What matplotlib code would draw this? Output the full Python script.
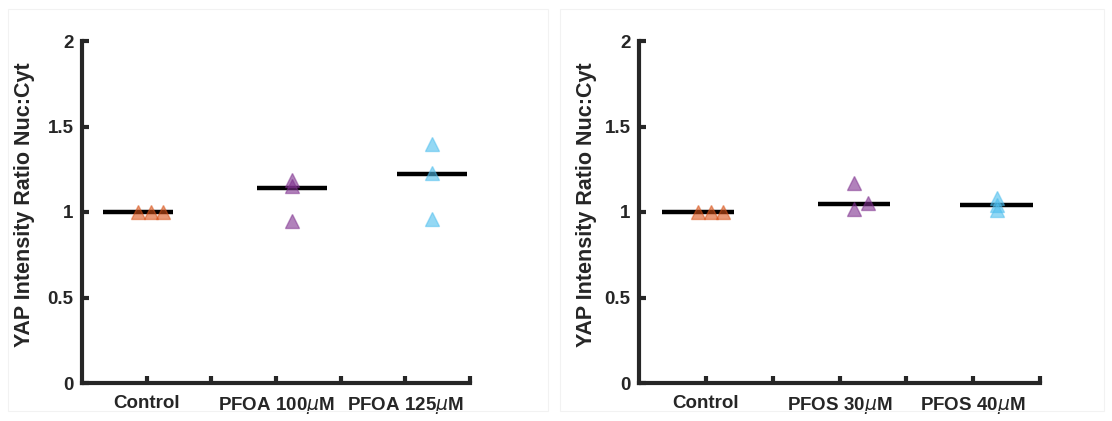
import matplotlib
matplotlib.use("Agg")
from matplotlib import pyplot as plt
from matplotlib.patches import Rectangle

plt.rcParams['font.family'] = ['Liberation Sans', 'DejaVu Sans']
plt.rcParams['mathtext.fontset'] = 'dejavusans'

# data
# left panel: PFOA
pfoa_labels = ["Control", "PFOA 100$\\mu$M", "PFOA 125$\\mu$M"]
pfoa_ctrl_x = [0.87, 1.07, 1.26]
pfoa_ctrl_y = [1.0, 1.0, 1.0]
pfoa100_x = [3.25, 3.25, 3.25]
pfoa100_y = [1.19, 1.15, 0.95]
pfoa125_x = [5.41, 5.41, 5.41]
pfoa125_y = [1.40, 1.23, 0.96]
pfoa_mid_x = [0.87, 3.25, 5.41]
pfoa_mid_y = [1.0, 1.14, 1.22]

# right panel: PFOS
pfos_labels = ["Control", "PFOS 30$\\mu$M", "PFOS 40$\\mu$M"]
pfos_ctrl_x = [0.88, 1.07, 1.26]
pfos_ctrl_y = [1.0, 1.0, 1.0]
pfos30_x = [3.22, 3.22, 3.43]
pfos30_y = [1.17, 1.02, 1.05]
pfos40_x = [5.35, 5.35, 5.35]
pfos40_y = [1.08, 1.04, 1.01]
pfos_mid_x = [0.88, 3.22, 5.35]
pfos_mid_y = [1.0, 1.045, 1.04]

orange = (0.850, 0.325, 0.098)
purple = (0.494, 0.184, 0.556)
cyan = (0.301, 0.745, 0.933)
axcol = "#262626"

fig = plt.figure(figsize=(11.12, 4.21), dpi=100)

# faint panel frames
fig.patches.append(Rectangle((8/1112, 10/421), 540/1112, 402/421, transform=fig.transFigure,
                             fill=False, edgecolor="#f2f2f2", lw=0.8))
fig.patches.append(Rectangle((560/1112, 10/421), 544/1112, 402/421, transform=fig.transFigure,
                             fill=False, edgecolor="#f2f2f2", lw=0.8))


def panel(rect, labels, groups, mid_x, mid_y, ylab_x):
    ax = fig.add_axes(rect)
    for gx, gy, c in groups:
        ax.plot(gx, gy, linestyle="none", marker="^", markersize=9.5,
                markerfacecolor=c + (0.6,), markeredgecolor=c + (0.5,),
                markeredgewidth=1.0, zorder=3)
    for mx, my in zip(mid_x, mid_y):
        ax.plot([mx - 0.54, mx + 0.54], [my, my], color="black", lw=3.2, zorder=2,
                solid_capstyle="butt")
    ax.set_xlim(0, 6)
    ax.set_ylim(0, 2)
    ax.set_xticks([1, 2, 3, 4, 5, 6])
    ax.set_xticklabels([labels[0], "", labels[1], "", labels[2], ""])
    ax.set_yticks([0, 0.5, 1, 1.5, 2])
    ax.set_yticklabels(["0", "0.5", "1", "1.5", "2"])
    for s in ["top", "right"]:
        ax.spines[s].set_visible(False)
    for s in ["left", "bottom"]:
        ax.spines[s].set_linewidth(3)
        ax.spines[s].set_color(axcol)
        ax.spines[s].set_capstyle("projecting")
    ax.tick_params(direction="in", length=5, width=3, color=axcol,
                   labelcolor=axcol, labelsize=13.5)
    ax.tick_params(axis="x", pad=9)
    ax.tick_params(axis="y", pad=6)
    for t in ax.get_xticklabels() + ax.get_yticklabels():
        t.set_fontweight("bold")
    ax.set_ylabel("YAP Intensity Ratio Nuc:Cyt", fontsize=15.5, fontweight="bold", color=axcol)
    ax.yaxis.set_label_coords(ylab_x, 0.52)
    ax.patch.set_alpha(0)
    return ax


panel([82/1112, 1 - 383/421, 388/1112, 342/421], pfoa_labels,
      [(pfoa_ctrl_x, pfoa_ctrl_y, orange), (pfoa100_x, pfoa100_y, purple),
       (pfoa125_x, pfoa125_y, cyan)], pfoa_mid_x, pfoa_mid_y, -0.121)
panel([639/1112, 1 - 383/421, 401/1112, 342/421], pfos_labels,
      [(pfos_ctrl_x, pfos_ctrl_y, orange), (pfos30_x, pfos30_y, purple),
       (pfos40_x, pfos40_y, cyan)], pfos_mid_x, pfos_mid_y, -0.105)

plt.savefig("out.png", dpi=100)
